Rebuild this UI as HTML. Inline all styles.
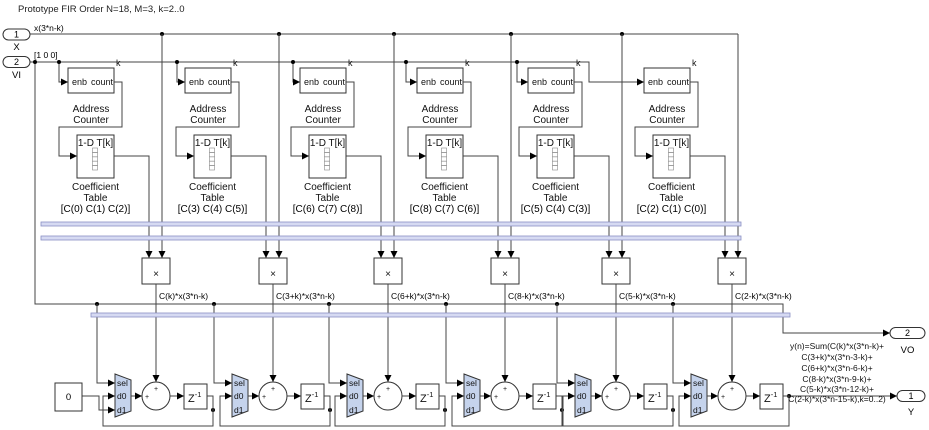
<!DOCTYPE html>
<html><head><meta charset="utf-8"><style>
html,body{margin:0;padding:0;background:#fff;}
svg{display:block;font-family:"Liberation Sans",sans-serif;}
</style></head><body>
<svg width="929" height="430" viewBox="0 0 929 430" xmlns="http://www.w3.org/2000/svg">
<defs>
<marker id="a" viewBox="0 0 10 10" refX="10" refY="5" markerWidth="7" markerHeight="7" markerUnits="userSpaceOnUse" orient="auto"><path d="M0,0L10,5L0,10z" fill="#000"/></marker>
<g id="col" fill="none" stroke="#444" stroke-width="1">
  <path d="M0,34V258" marker-end="url(#a)"/>
  <rect x="-94" y="68" width="46" height="25" fill="#fff" stroke="#333"/>
  <path d="M-48,82H-40V127H-103V156H-85" marker-end="url(#a)"/>
  <rect x="-85" y="135" width="37" height="43" fill="#fff" stroke="#333"/>
  <rect x="-69.5" y="148" width="5" height="4.4" stroke="#888" stroke-width="0.6"/>
  <rect x="-69.5" y="152.4" width="5" height="4.4" stroke="#888" stroke-width="0.6"/>
  <rect x="-69.5" y="156.8" width="5" height="4.4" stroke="#888" stroke-width="0.6"/>
  <rect x="-69.5" y="161.2" width="5" height="4.4" stroke="#888" stroke-width="0.6"/>
  <rect x="-69.5" y="165.6" width="5" height="4.4" stroke="#888" stroke-width="0.6"/>
  <path d="M-48,156H-13V258" marker-end="url(#a)"/>
  <rect x="-20" y="258" width="28" height="26" fill="#fff" stroke="#333"/>
  <path d="M-6,284V382" marker-end="url(#a)"/>
  <path d="M-65,304V383H-47" marker-end="url(#a)"/>
  <polygon points="-47,374 -31,380 -31,411 -47,417" fill="#c5d3ec" stroke="#333"/>
  <path d="M-31,396H-20" marker-end="url(#a)"/>
  <circle cx="-6" cy="396" r="14" fill="#fff" stroke="#333"/>
  <path d="M8,396H22" marker-end="url(#a)"/>
  <rect x="22" y="384" width="23" height="25" fill="#fff" stroke="#333"/>
  <path d="M45,396H51V426H-59V396H-47" marker-end="url(#a)"/>
</g>
<g id="txt" font-size="9" fill="#111">
  <text x="-90" y="85">enb</text><text x="-71" y="85">count</text>
  <text x="-46" y="66">k</text>
  <text x="-71" y="112" text-anchor="middle" font-size="10">Address</text>
  <text x="-71" y="123" text-anchor="middle" font-size="10">Counter</text>
  <text x="-66.5" y="146" text-anchor="middle" font-size="10">1-D T[k]</text>
  <text x="-66.5" y="190" text-anchor="middle" font-size="10">Coefficient</text>
  <text x="-66.5" y="201" text-anchor="middle" font-size="10">Table</text>
  <text x="-6" y="277" text-anchor="middle" font-size="10">×</text>
  <text x="-45" y="386" font-size="8.5">sel</text>
  <text x="-45" y="399" font-size="8.5">d0</text>
  <text x="-45" y="413" font-size="8.5">d1</text>
  <text x="-6" y="391" text-anchor="middle" font-size="7">+</text>
  <text x="-15" y="399" text-anchor="middle" font-size="7">+</text>
  <text x="26" y="402" font-size="11">Z<tspan font-size="7.5" dy="-5">-1</tspan></text>
</g>
</defs>

<text x="18" y="12" font-size="9.5" fill="#222">Prototype FIR Order N=18, M=3, k=2..0</text>

<rect x="3" y="29" width="27" height="11" rx="5.5" fill="#fff" stroke="#333"/>
<text x="16.5" y="37.5" font-size="9" text-anchor="middle">1</text>
<text x="16.5" y="50" font-size="9.5" text-anchor="middle">X</text>
<rect x="3" y="56.5" width="27" height="11" rx="5.5" fill="#fff" stroke="#333"/>
<text x="16.5" y="65" font-size="9" text-anchor="middle">2</text>
<text x="16.5" y="78" font-size="9.5" text-anchor="middle">VI</text>
<text x="34" y="31" font-size="8.5">x(3*n-k)</text>
<text x="34" y="58" font-size="8.5">[1 0 0]</text>

<g fill="none" stroke="#444">
  <path d="M30,34H738"/>
  <path d="M30,62H589V82H644" marker-end="url(#a)"/>
  <path d="M35,62V304H783V333H890" marker-end="url(#a)"/>
  <path d="M59,62V82H68" marker-end="url(#a)"/>
  <path d="M177,62V82H185" marker-end="url(#a)"/>
  <path d="M293,62V82H300" marker-end="url(#a)"/>
  <path d="M406,62V82H417" marker-end="url(#a)"/>
  <path d="M517,62V82H528" marker-end="url(#a)"/>
  <path d="M82,396H99V410H115" marker-end="url(#a)"/>
  <path d="M783,396H897" marker-end="url(#a)"/>
</g>
<g fill="#000">
  <circle cx="35" cy="62" r="2"/><circle cx="59" cy="62" r="2"/><circle cx="177" cy="62" r="2"/>
  <circle cx="293" cy="62" r="2"/><circle cx="406" cy="62" r="2"/><circle cx="517" cy="62" r="2"/>
  <circle cx="162" cy="34" r="2"/><circle cx="279" cy="34" r="2"/><circle cx="394" cy="34" r="2"/>
  <circle cx="511" cy="34" r="2"/><circle cx="622" cy="34" r="2"/>
  <circle cx="97" cy="304" r="2"/><circle cx="214" cy="304" r="2"/><circle cx="329" cy="304" r="2"/>
  <circle cx="446" cy="304" r="2"/><circle cx="557" cy="304" r="2"/><circle cx="673" cy="304" r="2"/>
  <circle cx="213" cy="410" r="2"/><circle cx="330" cy="410" r="2"/><circle cx="445" cy="410" r="2"/>
  <circle cx="562" cy="410" r="2"/><circle cx="673" cy="410" r="2"/><circle cx="789" cy="396" r="2"/>
</g>

<rect x="55" y="383" width="27" height="28" fill="#fff" stroke="#333"/>
<text x="68.5" y="400" font-size="9.5" text-anchor="middle">0</text>

<g transform="translate(162,0)"><use href="#col"/><use href="#txt"/>
<text x="-66.5" y="212" text-anchor="middle" font-size="10">[C(0) C(1) C(2)]</text><text x="-3" y="299" font-size="8.5">C(k)*x(3*n-k)</text></g>
<g transform="translate(279,0)"><use href="#col"/><use href="#txt"/>
<text x="-66.5" y="212" text-anchor="middle" font-size="10">[C(3) C(4) C(5)]</text><text x="-3" y="299" font-size="8.5">C(3+k)*x(3*n-k)</text></g>
<g transform="translate(394,0)"><use href="#col"/><use href="#txt"/>
<text x="-66.5" y="212" text-anchor="middle" font-size="10">[C(6) C(7) C(8)]</text><text x="-3" y="299" font-size="8.5">C(6+k)*x(3*n-k)</text></g>
<g transform="translate(511,0)"><use href="#col"/><use href="#txt"/>
<text x="-66.5" y="212" text-anchor="middle" font-size="10">[C(8) C(7) C(6)]</text><text x="-3" y="299" font-size="8.5">C(8-k)*x(3*n-k)</text></g>
<g transform="translate(622,0)"><use href="#col"/><use href="#txt"/>
<text x="-66.5" y="212" text-anchor="middle" font-size="10">[C(5) C(4) C(3)]</text><text x="-3" y="299" font-size="8.5">C(5-k)*x(3*n-k)</text></g>
<g transform="translate(738,0)"><use href="#col"/><use href="#txt"/>
<text x="-66.5" y="212" text-anchor="middle" font-size="10">[C(2) C(1) C(0)]</text><text x="-3" y="299" font-size="8.5">C(2-k)*x(3*n-k)</text></g>

<rect x="41" y="222" width="700" height="4" fill="#d6daf2" stroke="#8a90c4" stroke-width="0.8"/>
<rect x="41" y="236" width="700" height="4" fill="#d6daf2" stroke="#8a90c4" stroke-width="0.8"/>
<rect x="91" y="313" width="699" height="4" fill="#d6daf2" stroke="#8a90c4" stroke-width="0.8"/>

<rect x="890" y="327.5" width="35" height="11" rx="5.5" fill="#fff" stroke="#333"/>
<text x="907.5" y="336" font-size="9" text-anchor="middle">2</text>
<text x="907.5" y="353" font-size="9.5" text-anchor="middle">VO</text>
<rect x="897" y="390.5" width="28" height="11" rx="5.5" fill="#fff" stroke="#333"/>
<text x="911" y="399" font-size="9" text-anchor="middle">1</text>
<text x="911" y="415" font-size="9.5" text-anchor="middle">Y</text>

<g font-size="8.5" text-anchor="middle" fill="#111">
<text x="837" y="349">y(n)=Sum(C(k)*x(3*n-k)+</text>
<text x="837" y="360">C(3+k)*x(3*n-3-k)+</text>
<text x="837" y="371">C(6+k)*x(3*n-6-k)+</text>
<text x="837" y="382">C(8-k)*x(3*n-9-k)+</text>
<text x="837" y="392">C(5-k)*x(3*n-12-k)+</text>
<text x="837" y="402">C(2-k)*x(3*n-15-k),k=0..2)</text>
</g>
</svg>
</body></html>
